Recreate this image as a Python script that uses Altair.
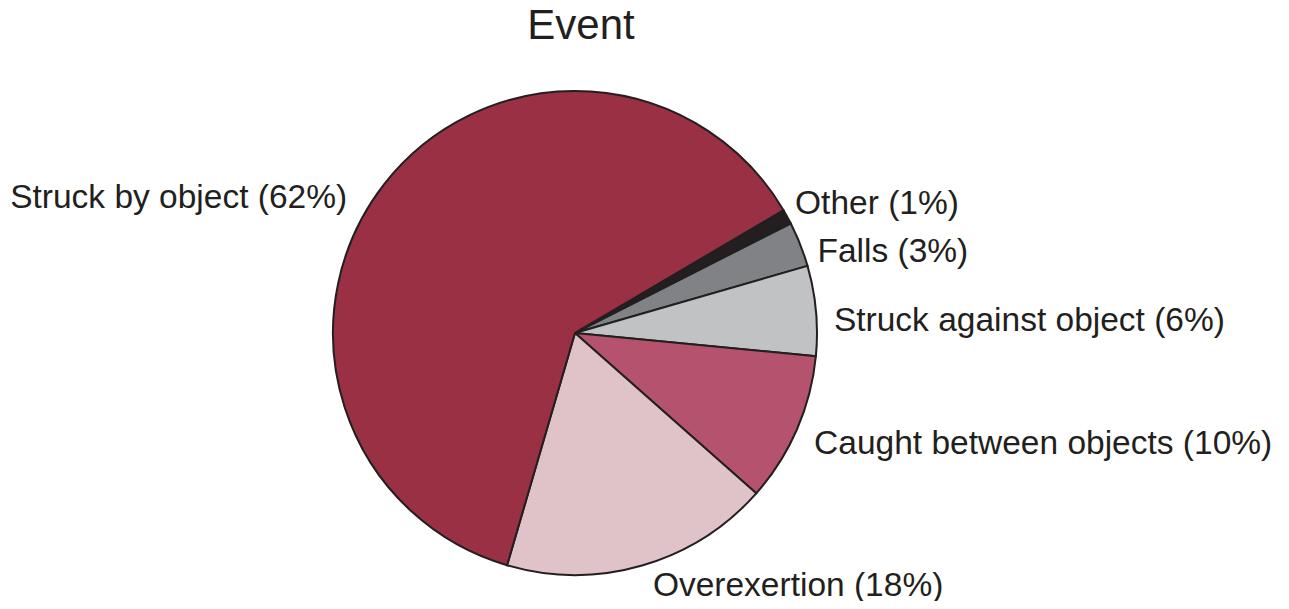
import math
import altair as alt
import pandas as pd

events = ["Other", "Falls", "Struck against object", "Caught between objects", "Overexertion", "Struck by object"]
shares = [1, 3, 6, 10, 18, 62]
colors = ["#231f20", "#808285", "#c1c2c4", "#b5536e", "#e0c3c8", "#993044"]

df = pd.DataFrame({
    "event": events,
    "share": shares,
    "order": list(range(len(events))),
})
df["label"] = [f"{e} ({s}%)" for e, s in zip(events, shares)]

start = math.radians(59.5)
theta_scale = alt.Scale(range=[start, start + 2 * math.pi])

base = alt.Chart(df)
CX, CY = 567, 255

pie = base.mark_arc(radius=242, stroke="#231f20", strokeWidth=2).encode(
    theta=alt.Theta("share:Q", stack=True, scale=theta_scale),
    color=alt.Color("event:N", scale=alt.Scale(domain=events, range=colors), legend=None),
    order=alt.Order("order:Q"),
    x=alt.value(CX),
    y=alt.value(CY),
)

font = "Liberation Sans"


def label_layer(expr, align, dx, dy):
    return base.transform_calculate(txt=expr).mark_text(
        radius=252, align=align, baseline="middle", dx=dx, dy=dy,
        font=font, fontSize=33.5, color="#231f20"
    ).encode(
        theta=alt.Theta("share:Q", stack=True, scale=theta_scale),
        order=alt.Order("order:Q"),
        text="txt:N",
        x=alt.value(CX),
        y=alt.value(CY),
    )


main_labels = label_layer(
    "datum.event == 'Struck by object' || datum.event == 'Other' ? '' : datum.label",
    "left", 8, 11)
other_label = label_layer("datum.event == 'Other' ? datum.label : ''", "left", -1, -8)
left_label = label_layer("datum.event == 'Struck by object' ? datum.label : ''", "right", -29, 20)

chart = alt.layer(pie, main_labels, other_label, left_label).properties(
    width=1146,
    height=523,
    title=alt.TitleParams("Event", font=font, fontSize=42, fontWeight="normal",
                          color="#231f20", anchor="middle", frame="group",
                          baseline="bottom", offset=-12),
    autosize=alt.AutoSizeParams(type="none"),
    padding={"left": 0, "top": 70, "right": 127, "bottom": 0},
).configure_view(stroke=None)

chart.save("out.html", embed_options={"renderer": "svg", "actions": False})
